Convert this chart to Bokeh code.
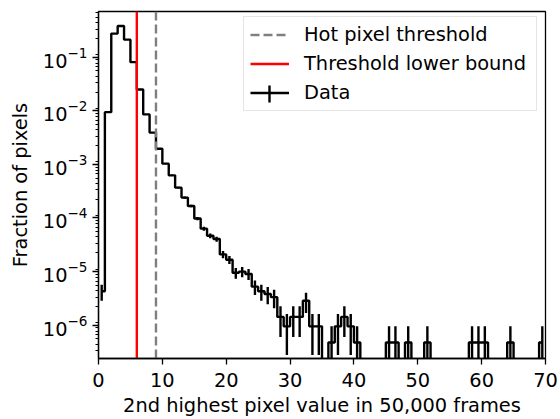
import numpy as np
from bokeh.plotting import figure
from bokeh.models import Range1d, Legend, LegendItem, Arrow, FixedTicker
from bokeh.embed import file_html
from bokeh.resources import INLINE

# Histogram of each pixel's 2nd highest value, unit-width bins from 0 to 70
bin_edges = np.arange(0, 71)
pixel_counts = [
    9, 19800, 578000, 800000, 446000, 169500, 52500, 18000, 8220, 4120,   # 0-9
    2170, 1312, 774, 504, 351, 205, 133, 98, 85, 44,                      # 10-19
    35, 20, 21, 19, 11, 9, 8, 7, 3, 2,                                    # 20-29
    3, 3, 6, 2, 2, 0, 1, 2, 3, 2,                                         # 30-39
    1, 0, 0, 0, 0, 1, 1, 0, 1, 0,                                         # 40-49
    0, 1, 0, 0, 0, 0, 0, 0, 1, 1,                                         # 50-59
    1, 0, 0, 0, 1, 0, 0, 0, 0, 1,                                         # 60-69
]
hot_pixel_threshold = 9
threshold_lower_bound = 6

x_ticks = [0, 10, 20, 30, 40, 50, 60, 70]
x_limits = (0, 70)
y_limits = (2.39e-7, 0.711)

FONT = "DejaVu Sans"
FS = "19.4px"
LW = 2.4

counts = np.asarray(pixel_counts, dtype=float)
n_pixels = counts.sum()
centers = 0.5 * (bin_edges[:-1] + bin_edges[1:])
fraction = counts / n_pixels
sigma = np.sqrt(counts) / n_pixels

# empty bins are pushed far below the axis so the step drops off the frame
floor = y_limits[0] * 1e-3
step_y = np.where(counts > 0, fraction, floor)

has = counts > 0
err_x = centers[has]
err_lo = np.maximum(fraction[has] - sigma[has], floor)
err_hi = fraction[has] + sigma[has]

p = figure(width=560, height=419, y_axis_type="log",
           x_range=Range1d(*x_limits), y_range=Range1d(*y_limits),
           output_backend="svg", toolbar_location=None,
           min_border_left=98, min_border_right=15,
           min_border_top=11, min_border_bottom=61)
p.background_fill_color = "white"
p.border_fill_color = "white"
p.grid.visible = False
p.outline_line_color = "black"
p.outline_line_width = 1.3
p.outline_line_alpha = 1.0

data_r = p.step(x=centers, y=step_y, mode="center", line_color="black", line_width=LW)
p.segment(x0=err_x, y0=err_lo, x1=err_x, y1=err_hi, line_color="black", line_width=LW)

hot_r = p.segment(x0=[hot_pixel_threshold], y0=[y_limits[0]],
                  x1=[hot_pixel_threshold], y1=[y_limits[1]],
                  line_color="#7f7f7f", line_width=LW, line_dash="9 4")
low_r = p.segment(x0=[threshold_lower_bound], y0=[y_limits[0]],
                  x1=[threshold_lower_bound], y1=[y_limits[1]],
                  line_color="red", line_width=LW)

p.xaxis.ticker = FixedTicker(ticks=x_ticks)
p.yaxis.ticker.num_minor_ticks = 9

for ax in (p.xaxis[0], p.yaxis[0]):
    ax.axis_line_color = "black"
    ax.axis_line_width = 1.3
    ax.major_tick_line_color = "black"
    ax.major_tick_line_width = 1.3
    ax.major_tick_in = 0
    ax.major_tick_out = 6
    ax.minor_tick_line_color = "black"
    ax.minor_tick_line_width = 1.0
    ax.minor_tick_in = 0
    ax.minor_tick_out = 3
    ax.major_label_text_font = FONT
    ax.major_label_text_font_size = FS
    ax.major_label_text_color = "black"
    ax.axis_label_text_font = FONT
    ax.axis_label_text_font_size = FS
    ax.axis_label_text_font_style = "normal"
    ax.axis_label_text_color = "black"

p.yaxis.major_label_standoff = 5
p.xaxis.major_label_standoff = 8
p.xaxis.minor_tick_line_color = None
p.xaxis.axis_label = "2nd highest pixel value in 50,000 frames"
p.yaxis.axis_label = "Fraction of pixels"
p.xaxis.axis_label_standoff = 4
p.yaxis.axis_label_standoff = 8

# legend box anchored by its bottom-left corner, in pixels from the frame's bottom-left
legend = Legend(items=[
    LegendItem(label="Hot pixel threshold", renderers=[hot_r]),
    LegendItem(label="Threshold lower bound", renderers=[low_r]),
    LegendItem(label="Data", renderers=[data_r]),
], location=(145, 247))
legend.label_text_font = FONT
legend.label_text_font_size = FS
legend.label_text_color = "black"
legend.glyph_width = 39
legend.glyph_height = 23
legend.label_height = 23
legend.label_width = 226
legend.label_standoff = 15
legend.padding = 6
legend.spacing = 6
legend.margin = 0
legend.border_line_color = "#cccccc"
legend.border_line_width = 1
# no data passes under the legend, so its box can stay unfilled
legend.background_fill_alpha = 0.0
p.add_layout(legend)

# vertical error-bar stroke on the "Data" legend handle
p.add_layout(Arrow(end=None, x_start=171, y_start=256, x_end=171, y_end=273,
                   start_units="screen", end_units="screen",
                   line_color="black", line_width=LW, level="overlay"))

open("out.html", "w").write(file_html(p, INLINE))
